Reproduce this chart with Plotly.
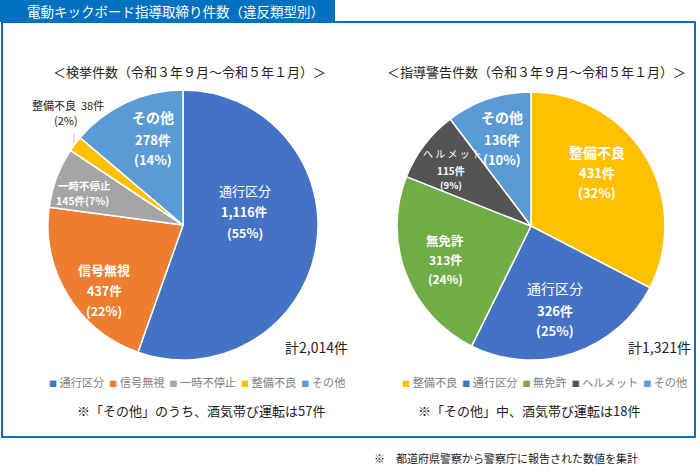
import plotly.graph_objects as go

# ---- data ----
left_labels = ["通行区分", "信号無視", "一時不停止", "整備不良", "その他"]
left_values = [1116, 437, 145, 38, 278]
left_colors = ["#4472C4", "#ED7D31", "#A5A5A5", "#FFC000", "#5B9BD5"]

right_labels = ["整備不良", "通行区分", "無免許", "ヘルメット", "その他"]
right_values = [431, 326, 313, 115, 136]
right_colors = ["#FFC000", "#4472C4", "#70AD47", "#545454", "#5B9BD5"]

left_pcts = ["55%", "22%", "7%", "2%", "14%"]
right_pcts = ["32%", "25%", "24%", "9%", "10%"]

title_text = "電動キックボード指導取締り件数（違反類型別）"
left_sub = "＜検挙件数（令和３年９月～令和５年１月）＞"
right_sub = "＜指導警告件数（令和３年９月～令和５年１月）＞"
left_total = "計2,014件"
right_total = "計1,321件"
left_note = "※「その他」のうち、酒気帯び運転は57件"
right_note = "※「その他」中、酒気帯び運転は18件"
footnote = "※　都道府県警察から警察庁に報告された数値を集計"

W, H = 700, 473
FONT = "Noto Sans CJK JP"


def px(x):
    return x / W


def py(y):
    return 1 - y / H


fig = go.Figure()

fig.add_trace(go.Pie(
    labels=left_labels, values=left_values, sort=False, direction="clockwise",
    rotation=0, marker=dict(colors=left_colors, line=dict(color="white", width=1.5)),
    textinfo="none", showlegend=False,
    domain=dict(x=[px(48), px(318)], y=[py(360), py(90)]),
))
fig.add_trace(go.Pie(
    labels=right_labels, values=right_values, sort=False, direction="clockwise",
    rotation=0, marker=dict(colors=right_colors, line=dict(color="white", width=1.5)),
    textinfo="none", showlegend=False,
    domain=dict(x=[px(397), px(665)], y=[py(360), py(92)]),
))

shapes = [
    dict(type="rect", xref="paper", yref="paper", x0=px(2), x1=px(695), y0=py(437), y1=py(22),
         line=dict(color="#0070C0", width=2), fillcolor="rgba(0,0,0,0)", layer="below"),
    dict(type="rect", xref="paper", yref="paper", x0=0, x1=px(335), y0=py(22), y1=1,
         line=dict(width=0), fillcolor="#0070C0"),
    dict(type="line", xref="paper", yref="paper", x0=px(74), x1=px(74), y0=py(134), y1=py(143),
         line=dict(color="#BFBFBF", width=1)),
]

ann = []


def add(text, x, y, size=12, color="white", bold=True, xanchor="center"):
    t = f"<b>{text}</b>" if bold else text
    ann.append(dict(text=t, x=px(x), y=py(y), xref="paper", yref="paper", showarrow=False,
                    xanchor=xanchor, yanchor="middle",
                    font=dict(family=FONT, size=size, color=color)))


def fmt(v):
    return f"{v:,}件"


# title and subtitles
add(title_text, 25, 11, size=13.5, color="white", bold=False, xanchor="left")
add(left_sub, 190, 71, size=13, color="#222222", bold=False)
add(right_sub, 536, 71, size=13, color="#222222", bold=False)

# left pie labels
add(left_labels[0], 245, 190, 13, bold=False)
add(fmt(left_values[0]), 245, 212, 12.5)
add(f"({left_pcts[0]})", 245, 232, 12.5)
add(left_labels[1], 104, 269, 13)
add(fmt(left_values[1]), 104, 290, 12.5)
add(f"({left_pcts[1]})", 104, 310, 12.5)
add(left_labels[2], 84, 185, 10.5)
add(f"{left_values[2]}件({left_pcts[2]})", 82, 200, 10.5)
add(left_labels[4], 153, 117, 14)
add(fmt(left_values[4]), 153, 139, 13)
add(f"({left_pcts[4]})", 153, 159, 13)
add(f"{left_labels[3]}  {left_values[3]}件", 68, 105, 11, color="#222222", bold=False)
add(f"({left_pcts[3]})", 66, 120, 11, color="#222222", bold=False)

# right pie labels
add(right_labels[0], 597, 152, 14)
add(fmt(right_values[0]), 597, 173, 13)
add(f"({right_pcts[0]})", 597, 193, 13)
add(right_labels[1], 555, 288, 14, bold=False)
add(fmt(right_values[1]), 555, 310, 13)
add(f"({right_pcts[1]})", 555, 330, 13)
add(right_labels[2], 445, 240, 12.5)
add(fmt(right_values[2]), 445, 259, 12)
add(f"({right_pcts[2]})", 445, 278, 12)
add("ヘ ル メ ッ ト", 452, 153, 10, bold=False)
add(fmt(right_values[3]), 451, 170, 10)
add(f"({right_pcts[3]})", 451, 185, 9.5)
add(right_labels[4], 502, 117, 14)
add(fmt(right_values[4]), 502, 139, 13)
add(f"({right_pcts[4]})", 502, 159, 13)

# totals
add(left_total, 316, 347, 14, color="#222222", bold=False)
add(right_total, 659, 347, 14, color="#222222", bold=False)


def legend_text(labels, colors):
    parts = [f"<span style='color:{c};font-size:8px'>■</span> {l}" for l, c in zip(labels, colors)]
    return "  ".join(parts)


ann.append(dict(text=legend_text(left_labels, left_colors), x=px(197), y=py(382),
                xref="paper", yref="paper", showarrow=False, xanchor="center", yanchor="middle",
                font=dict(family=FONT, size=11.2, color="#808080")))
ann.append(dict(text=legend_text(right_labels, right_colors), x=px(544), y=py(382),
                xref="paper", yref="paper", showarrow=False, xanchor="center", yanchor="middle",
                font=dict(family=FONT, size=11.2, color="#808080")))

add(left_note, 201, 410, 13, color="#222222", bold=False)
add(right_note, 529, 410, 13, color="#222222", bold=False)
add(footnote, 506, 458, 11, color="#222222", bold=False)

fig.update_layout(
    width=W, height=H, margin=dict(l=0, r=0, t=0, b=0),
    paper_bgcolor="white", plot_bgcolor="white",
    shapes=shapes, annotations=ann, showlegend=False,
    font=dict(family=FONT),
)

fig.write_html("out.html", config={"displayModeBar": False},
               post_script="document.body.style.margin='0';document.body.style.padding='0';"
                           "document.documentElement.style.overflow='hidden';")
